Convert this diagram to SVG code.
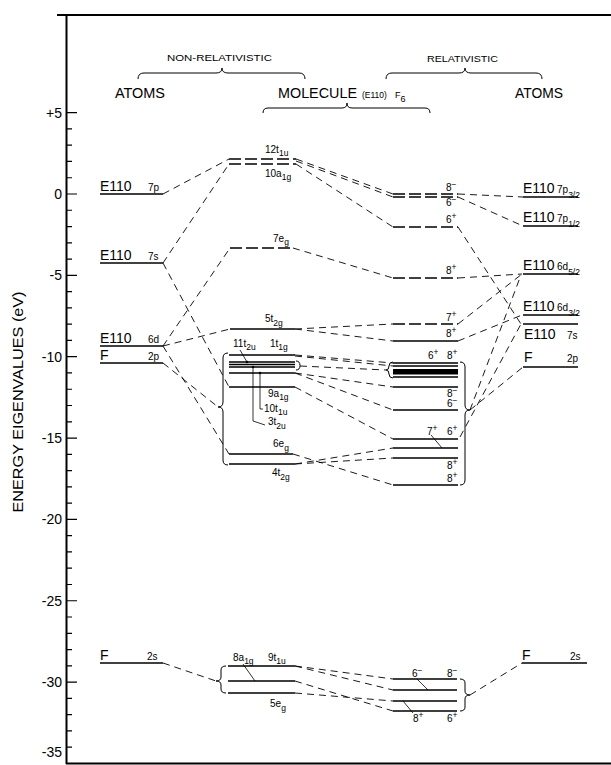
<svg xmlns="http://www.w3.org/2000/svg" width="611" height="765" viewBox="0 0 611 765">
<style>
text{font-family:"Liberation Sans",Arial,sans-serif;fill:#000}
.b{font-size:14px}
.o{font-size:10px}
.s{font-size:8.5px}
.h{font-size:9px}
.lv{stroke:#000;stroke-width:1.3;fill:none}
.lvd{stroke:#000;stroke-width:1.3;fill:none;stroke-dasharray:12 4}
.cn{stroke:#000;stroke-width:0.9;fill:none;stroke-dasharray:7 5}
.ld{stroke:#000;stroke-width:0.8;fill:none}
.br{stroke:#000;stroke-width:1;fill:none}
.ax{stroke:#000;fill:none}
</style>
<rect width="611" height="765" fill="#fff"/>
<g id="frame">
<path class="ax" stroke-width="2" d="M66.5,15 V764 M57,15 H611 M66,763.5 H611"/>
<path class="ax" stroke-width="1.2" d="M66,112.65h11 M66,128.92h6 M66,145.19h6 M66,161.46h6 M66,177.73h6 M66,194h11 M66,210.27h6 M66,226.54h6 M66,242.81h6 M66,259.08h6 M66,275.35h11 M66,291.62h6 M66,307.89h6 M66,324.16h6 M66,340.43h6 M66,356.7h11 M66,372.97h6 M66,389.24h6 M66,405.51h6 M66,421.78h6 M66,438.05h11 M66,454.32h6 M66,470.59h6 M66,486.86h6 M66,503.13h6 M66,519.4h11 M66,535.67h6 M66,551.94h6 M66,568.21h6 M66,584.48h6 M66,600.75h11 M66,617.02h6 M66,633.29h6 M66,649.56h6 M66,665.83h6 M66,682.1h11 M66,698.37h6 M66,714.64h6 M66,730.91h6 M66,747.18h6"/>
<g class="b" text-anchor="end">
<text x="62" y="118">+5</text>
<text x="62" y="199">0</text>
<text x="62" y="280">-5</text>
<text x="62" y="362">-10</text>
<text x="62" y="443">-15</text>
<text x="62" y="524">-20</text>
<text x="62" y="606">-25</text>
<text x="62" y="687">-30</text>
<text x="62" y="757">-35</text>
</g>
<text class="b" transform="translate(23,402) rotate(-90)" text-anchor="middle" textLength="221" lengthAdjust="spacingAndGlyphs">ENERGY EIGENVALUES (eV)</text>
</g>
<g id="headers">
<text class="h" x="167" y="61" textLength="105" lengthAdjust="spacingAndGlyphs">NON-RELATIVISTIC</text>
<text class="h" x="427" y="62" textLength="71" lengthAdjust="spacingAndGlyphs">RELATIVISTIC</text>
<path class="br" d="M138,79 Q138,73 144,73 L216,73 Q222,73 222,68 Q222,73 228,73 L299,73 Q305,73 305,79"/>
<path class="br" d="M386,79 Q386,73 392,73 L459,73 Q465,73 465,68 Q465,73 471,73 L536,73 Q542,73 542,79"/>
<text class="b" x="115" y="98" textLength="50" lengthAdjust="spacingAndGlyphs">ATOMS</text>
<text class="b" x="515" y="98" textLength="48" lengthAdjust="spacingAndGlyphs">ATOMS</text>
<text class="b" x="278" y="98" textLength="79" lengthAdjust="spacingAndGlyphs">MOLECULE</text>
<text x="362" y="98" font-size="8.5">(E110)</text>
<text x="395" y="98" font-size="9">F<tspan dy="4">6</tspan></text>
<path class="br" d="M263,113 Q263,108 268,108 L342,108 Q347,108 347,103 Q347,108 352,108 L425,108 Q430,108 430,113"/>
</g>
<g id="atoms-left">
<g id="L-7p"><path class="lv" d="M100,194H163"/><text class="b" x="100" y="191">E110</text><text class="o" x="148" y="191">7p</text></g>
<g id="L-7s"><path class="lv" d="M100,263H163"/><text class="b" x="100" y="260">E110</text><text class="o" x="148" y="260">7s</text></g>
<g id="L-6d"><path class="lv" d="M100,346H163"/><text class="b" x="100" y="343">E110</text><text class="o" x="148" y="343">6d</text></g>
<g id="L-2p"><path class="lv" d="M100,363H163"/><text class="b" x="100" y="360">F</text><text class="o" x="148" y="360">2p</text></g>
<g id="L-2s"><path class="lv" d="M100,663H163"/><text class="b" x="100" y="660">F</text><text class="o" x="147" y="660">2s</text></g>
</g>
<g id="atoms-right">
<g id="R-7p32"><path class="lv" d="M523,197H578"/><text class="b" x="523" y="193">E110</text><text class="o" x="557" y="193">7p<tspan class="s" dy="5">3/2</tspan></text></g>
<g id="R-7p12"><path class="lv" d="M523,226H578"/><text class="b" x="523" y="222">E110</text><text class="o" x="557" y="222">7p<tspan class="s" dy="5">1/2</tspan></text></g>
<g id="R-6d52"><path class="lv" d="M523,274H578"/><text class="b" x="523" y="270">E110</text><text class="o" x="557" y="270">6d<tspan class="s" dy="5">5/2</tspan></text></g>
<g id="R-6d32"><path class="lv" d="M523,315H578"/><text class="b" x="523" y="311">E110</text><text class="o" x="557" y="311">6d<tspan class="s" dy="5">3/2</tspan></text></g>
<g id="R-7s"><path class="lv" d="M523,324H578"/><text class="b" x="524" y="339">E110</text><text class="o" x="567" y="339">7s</text></g>
<g id="R-2p"><path class="lv" d="M523,367H578"/><text class="b" x="524" y="362">F</text><text class="o" x="567" y="362">2p</text></g>
<g id="R-2s"><path class="lv" d="M522,663H587"/><text class="b" x="522" y="660">F</text><text class="o" x="570" y="660">2s</text></g>
</g>
<g id="molecule-nr">
<g id="n-12t1u"><path class="lvd" d="M229,159H296"/><text class="o" x="265" y="153">12t<tspan class="s" dy="3">1u</tspan></text></g>
<g id="n-10a1g"><path class="lvd" d="M229,164H296"/><text class="o" x="265" y="177">10a<tspan class="s" dy="3">1g</tspan></text></g>
<g id="n-7eg"><path class="lvd" d="M230,248H293"/><text class="o" x="273" y="242">7e<tspan class="s" dy="3">g</tspan></text></g>
<g id="n-5t2g"><path class="lv" d="M230,329H295"/><text class="o" x="265" y="322">5t<tspan class="s" dy="4">2g</tspan></text></g>
<g id="n-cluster">
<path class="lv" d="M229,355H295 M229,362H295 M229,364.5H295 M229,367H295"/>
<path class="lv" stroke-width="1.6" d="M229,373H295"/>
<text class="o" x="233" y="347">11t<tspan class="s" dy="3">2u</tspan></text>
<text class="o" x="270" y="347">1t<tspan class="s" dy="3">1g</tspan></text>
<path class="br" d="M296,361 Q300,361 300,365.5 Q300,370 296,370"/>
</g>
<g id="n-9a1g"><path class="lv" d="M229,387H295"/><text class="o" x="268" y="397">9a<tspan class="s" dy="3">1g</tspan></text></g>
<g id="n-10t1u"><text class="o" x="264" y="412">10t<tspan class="s" dy="3">1u</tspan></text><path class="ld" d="M260,373V409H263"/><circle cx="260" cy="373" r="1.3"/></g>
<g id="n-3t2u"><text class="o" x="268" y="425">3t<tspan class="s" dy="4">2u</tspan></text><path class="ld" d="M253,367V421L265,425"/><circle cx="253" cy="367" r="1.3"/></g>
<g id="n-11t2u-lead"><path class="ld" d="M240,350L247,362"/><circle cx="247" cy="362" r="1.3"/></g>
<g id="n-6eg"><path class="lv" d="M229,454H293"/><text class="o" x="273" y="447">6e<tspan class="s" dy="4">g</tspan></text></g>
<g id="n-4t2g"><path class="lv" d="M229,464H295"/><text class="o" x="272" y="476">4t<tspan class="s" dy="4">2g</tspan></text></g>
<path id="n-brace" class="br" d="M228,353 Q223,353 223,358 L223,402 Q223,407 218,407 Q223,407 223,412 L223,460 Q223,465 228,465"/>
<g id="n-bottom">
<path class="lv" d="M228,666H295 M228,681H295 M228,693H295"/>
<text class="o" x="233" y="661">8a<tspan class="s" dy="3">1g</tspan></text>
<text class="o" x="268" y="661">9t<tspan class="s" dy="3">1u</tspan></text>
<text class="o" x="270" y="707">5e<tspan class="s" dy="4">g</tspan></text>
<path class="ld" d="M243,664L255,681"/>
<path class="br" d="M226,666 Q221,666 221,670 L221,677 Q221,681 216,681 Q221,681 221,685 L221,689 Q221,693 226,693"/>
</g>
</g>
<g id="molecule-rel">
<g id="r-top">
<path class="lvd" d="M393,194H458 M393,197H458 M393,227H458 M393,278H458 M393,324H458"/>
<path class="lv" d="M393,341H458"/>
<text class="o" x="446" y="191">8<tspan class="s" dy="-4">−</tspan></text>
<text class="o" x="446" y="206">6<tspan class="s" dy="-4">−</tspan></text>
<text class="o" x="446" y="223">6<tspan class="s" dy="-4">+</tspan></text>
<text class="o" x="446" y="274">8<tspan class="s" dy="-4">+</tspan></text>
<text class="o" x="446" y="321">7<tspan class="s" dy="-4">+</tspan></text>
<text class="o" x="446" y="337">8<tspan class="s" dy="-4">+</tspan></text>
</g>
<g id="r-cluster">
<path class="lv" d="M393,363H458 M393,366H458 M393,377H458 M393,387H458 M393,410H458 M393,439H458 M393,448H458 M393,458H458 M393,485H458"/>
<rect x="393" y="369" width="65" height="5.5"/>
<text class="o" x="428" y="359">6<tspan class="s" dy="-4">+</tspan></text>
<text class="o" x="447" y="359">8<tspan class="s" dy="-4">+</tspan></text>
<text class="o" x="447" y="397">8<tspan class="s" dy="-4">−</tspan></text>
<text class="o" x="447" y="407">6<tspan class="s" dy="-4">−</tspan></text>
<text class="o" x="427" y="435">7<tspan class="s" dy="-4">+</tspan></text>
<text class="o" x="447" y="435">6<tspan class="s" dy="-4">+</tspan></text>
<text class="o" x="447" y="469">8<tspan class="s" dy="-4">+</tspan></text>
<text class="o" x="447" y="482">8<tspan class="s" dy="-4">+</tspan></text>
<path class="ld" d="M431,435L442,448"/>
<path class="br" d="M393,362 Q389,362 389,366 Q389,370 386,370 Q389,370 389,374 Q389,378 393,378"/>
<path class="br" d="M460,362 Q465,362 465,367 L465,405 Q465,410 470,410 Q465,410 465,415 L465,480 Q465,485 460,485"/>
</g>
<g id="r-bottom">
<path class="lv" d="M393,679H457 M393,690H457 M393,701H457 M393,711H457"/>
<text class="o" x="412" y="677">6<tspan class="s" dy="-4">−</tspan></text>
<text class="o" x="447" y="677">8<tspan class="s" dy="-4">−</tspan></text>
<text class="o" x="413" y="722">8<tspan class="s" dy="-4">+</tspan></text>
<text class="o" x="447" y="722">6<tspan class="s" dy="-4">+</tspan></text>
<path class="ld" d="M417,679L428,690 M413,713L403,701"/>
<path class="br" d="M460,679 Q465,679 465,683 L465,691 Q465,695 470,695 Q465,695 465,699 L465,707 Q465,711 460,711"/>
</g>
</g>
<g id="connectors" class="cn">
<path d="M163,194L229,159"/>
<path d="M163,263L229,164"/>
<path d="M163,263L229,387"/>
<path d="M163,346L230,248"/>
<path d="M163,346L230,329"/>
<path d="M163,346L229,454"/>
<path d="M163,363L218,407"/>
<path d="M163,663L216,681"/>
<path d="M296,159L393,194"/>
<path d="M296,161L393,197"/>
<path d="M296,164L393,227"/>
<path d="M293,248L393,278"/>
<path d="M295,329L393,324"/>
<path d="M295,329L393,341"/>
<path d="M295,355L393,363"/>
<path d="M295,356L393,366"/>
<path d="M300,366L386,370"/>
<path d="M295,373L393,387"/>
<path d="M295,373L393,410"/>
<path d="M295,387L393,439"/>
<path d="M293,454L393,485"/>
<path d="M295,464L393,448"/>
<path d="M295,464L393,458"/>
<path d="M295,666L393,679"/>
<path d="M295,666L393,690"/>
<path d="M295,681L393,711"/>
<path d="M295,693L393,701"/>
<path d="M458,194L523,197"/>
<path d="M458,197L523,226"/>
<path d="M458,227L521,324"/>
<path d="M458,278L522,274"/>
<path d="M458,324L522,274"/>
<path d="M458,341L522,315"/>
<path d="M470,410L523,367"/>
<path d="M470,410L521,275"/>
<path d="M460,437L521,324"/>
<path d="M470,695L522,663"/>
</g>
</svg>
